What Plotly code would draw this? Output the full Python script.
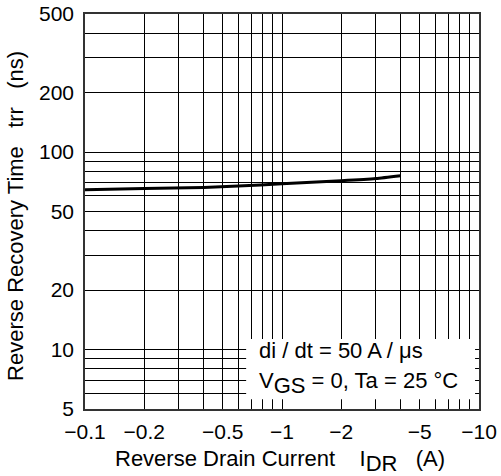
import plotly.graph_objects as go

# Data (absolute values of reverse drain current, A)
current_a = [0.1, 0.2, 0.4, 0.6, 1.0, 2.0, 3.0, 4.0]
trr_ns = [64.4, 65.4, 66.2, 67.3, 69.1, 71.6, 73.5, 75.9]

x_tickvals = [0.1, 0.2, 0.5, 1, 2, 5, 10]
x_ticktext = ["\u22120.1", "\u22120.2", "\u22120.5", "\u22121", "\u22122", "\u22125", "\u221210"]
x_minor = [0.3, 0.4, 0.6, 0.7, 0.8, 0.9, 3, 4, 6, 7, 8, 9]

y_tickvals = [5, 10, 20, 50, 100, 200, 500]
y_ticktext = ["5", "10", "20", "50", "100", "200", "500"]
y_minor = [6, 7, 8, 9, 30, 40, 60, 70, 80, 90, 300, 400]

FONT = "Liberation Sans, Arial, sans-serif"
FS = 21      # tick labels
FT = 22      # titles and notes
NB = "\u00a0"

fig = go.Figure()
fig.add_trace(go.Scatter(
    x=current_a, y=trr_ns, mode="lines",
    line=dict(color="black", width=3, shape="spline", smoothing=0.5),
    showlegend=False, hoverinfo="skip",
))

axis_common = dict(
    type="log", automargin=False,
    showgrid=True, gridcolor="black", gridwidth=1,
    showline=True, mirror=True, linecolor="#333333", linewidth=1.5,
    ticks="outside", tickcolor="rgba(0,0,0,0)",
    tickfont=dict(family=FONT, size=FS, color="black"),
    zeroline=False,
)

fig.update_xaxes(
    **axis_common,
    range=[-1.00001, 1.00001],
    tickvals=x_tickvals, ticktext=x_ticktext, ticklen=3,
    minor=dict(tickvals=x_minor, showgrid=True, gridcolor="black", gridwidth=1, ticks=""),
)
fig.update_yaxes(
    **axis_common,
    range=[0.69896, 2.69898],
    tickvals=y_tickvals, ticktext=y_ticktext, ticklen=5,
    minor=dict(tickvals=y_minor, showgrid=True, gridcolor="black", gridwidth=1, ticks=""),
)

def sub(s, size):
    return f"<sub><span style='font-size:{size}px'>{s}</span></sub>"

fig.update_layout(
    width=501, height=476,
    margin=dict(l=85, r=22, t=14, b=67, autoexpand=False),
    paper_bgcolor="white", plot_bgcolor="white",
    font=dict(family=FONT, size=FS, color="black"),
    showlegend=False,
    shapes=[dict(
        type="rect", xref="paper", yref="paper",
        x0=0.409, x1=0.990, y0=0.025, y1=0.177,
        fillcolor="white", line=dict(width=0), layer="above",
    )],
    annotations=[
        dict(text="di / dt = 50 A / \u03bcs", xref="paper", yref="paper",
             x=0.436, y=0.149, xanchor="left", yanchor="middle",
             showarrow=False, font=dict(family=FONT, size=FT)),
        dict(text="V" + sub("GS", FT) + " = 0, Ta = 25 \u00b0C", xref="paper", yref="paper",
             x=0.436, y=0.066, xanchor="left", yanchor="middle",
             showarrow=False, font=dict(family=FONT, size=FT)),
        dict(text="Reverse Drain Current" + NB * 4 + "I" + sub("DR", FT) + NB * 3 + "(A)",
             xref="paper", yref="paper", x=0.494, y=0, yshift=-35,
             xanchor="center", yanchor="top",
             showarrow=False, font=dict(family=FONT, size=FT)),
        dict(text="Reverse Recovery Time" + NB * 3 + "trr" + NB * 3 + "(ns)",
             xref="paper", yref="paper", x=-0.175, y=0.489,
             xanchor="center", yanchor="middle", textangle=-90,
             showarrow=False, font=dict(family=FONT, size=FT)),
    ],
)

fig.write_html(
    "out.html",
    config={"displayModeBar": False},
    post_script="document.body.style.margin='0';document.body.style.overflow='hidden';",
)
